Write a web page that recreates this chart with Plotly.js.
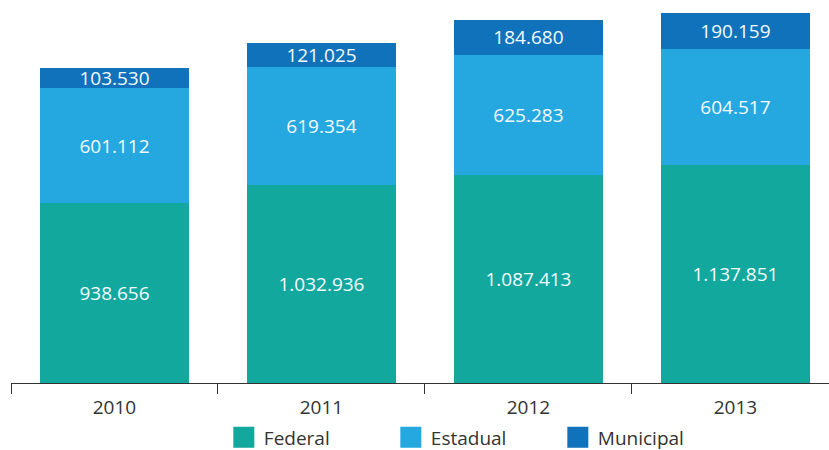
<!DOCTYPE html>
<html>
<head>
<meta charset="utf-8">
<script src="https://cdn.plot.ly/plotly-3.0.1.min.js"></script>
<style>html,body{margin:0;padding:0;background:#fff;}#chart{width:829px;height:450px;}</style>
</head>
<body>
<div id="chart"></div>
<script>
const years = ["2010", "2011", "2012", "2013"];
const federal = [938656, 1032936, 1087413, 1137851];
const estadual = [601112, 619354, 625283, 604517];
const municipal = [103530, 121025, 184680, 190159];
const seriesNames = ["Federal", "Estadual", "Municipal"];

function fmt(v) {
  return String(v).replace(/\B(?=(\d{3})+(?!\d))/g, ".");
}

const FONT = "Open Sans, sans-serif";
const colors = ["#13a89e", "#25a8e0", "#1172bc"];
const seriesVals = [federal, estadual, municipal];

const bars = seriesVals.map((vals, i) => ({
  type: "bar",
  name: seriesNames[i],
  legendgroup: seriesNames[i],
  showlegend: false,
  x: years,
  y: vals,
  text: vals.map(fmt),
  textposition: "inside",
  insidetextanchor: "middle",
  textangle: 0,
  textfont: {family: FONT, size: 19, color: "#f4fbfe"},
  marker: {color: colors[i], line: {width: 0}},
  hoverinfo: "skip"
}));

// legend entries (large square swatches like the reference)
const legendItems = seriesNames.map((name, i) => ({
  type: "scatter",
  mode: "markers",
  name: name,
  legendgroup: name,
  x: [null],
  y: [null],
  marker: {symbol: "square", size: 16, color: colors[i], line: {color: colors[i], width: 5}},
  hoverinfo: "skip"
}));

const totals = years.map((_, i) => federal[i] + estadual[i] + municipal[i]);
const ymax = Math.max(...totals);

const layout = {
  width: 829,
  height: 450,
  barmode: "stack",
  bargap: 0.28,
  margin: {l: 11, r: 0, t: 13, b: 67},
  paper_bgcolor: "#ffffff",
  plot_bgcolor: "#ffffff",
  font: {family: FONT, color: "#333333"},
  uniformtext: {mode: "show", minsize: 19},
  xaxis: {
    type: "category",
    range: [-0.5, 3.452],
    showline: true,
    linecolor: "#333333",
    linewidth: 1,
    ticks: "outside",
    tickson: "boundaries",
    ticklen: 10,
    tickcolor: "#333333",
    ticklabelstandoff: 7,
    tickfont: {size: 19, color: "#333333"},
    showgrid: false,
    zeroline: false
  },
  yaxis: {
    range: [0, ymax],
    visible: false,
    showgrid: false,
    zeroline: false
  },
  showlegend: true,
  legend: {
    orientation: "h",
    xref: "container",
    yref: "container",
    x: 0.27,
    xanchor: "left",
    y: 0.028,
    yanchor: "middle",
    font: {family: FONT, size: 19, color: "#333333"},
    traceorder: "normal",
    entrywidth: 122,
    itemsizing: "trace",
    bgcolor: "rgba(0,0,0,0)"
  }
};

Plotly.newPlot("chart", bars.concat(legendItems), layout, {displayModeBar: false, staticPlot: true});
</script>
</body>
</html>
